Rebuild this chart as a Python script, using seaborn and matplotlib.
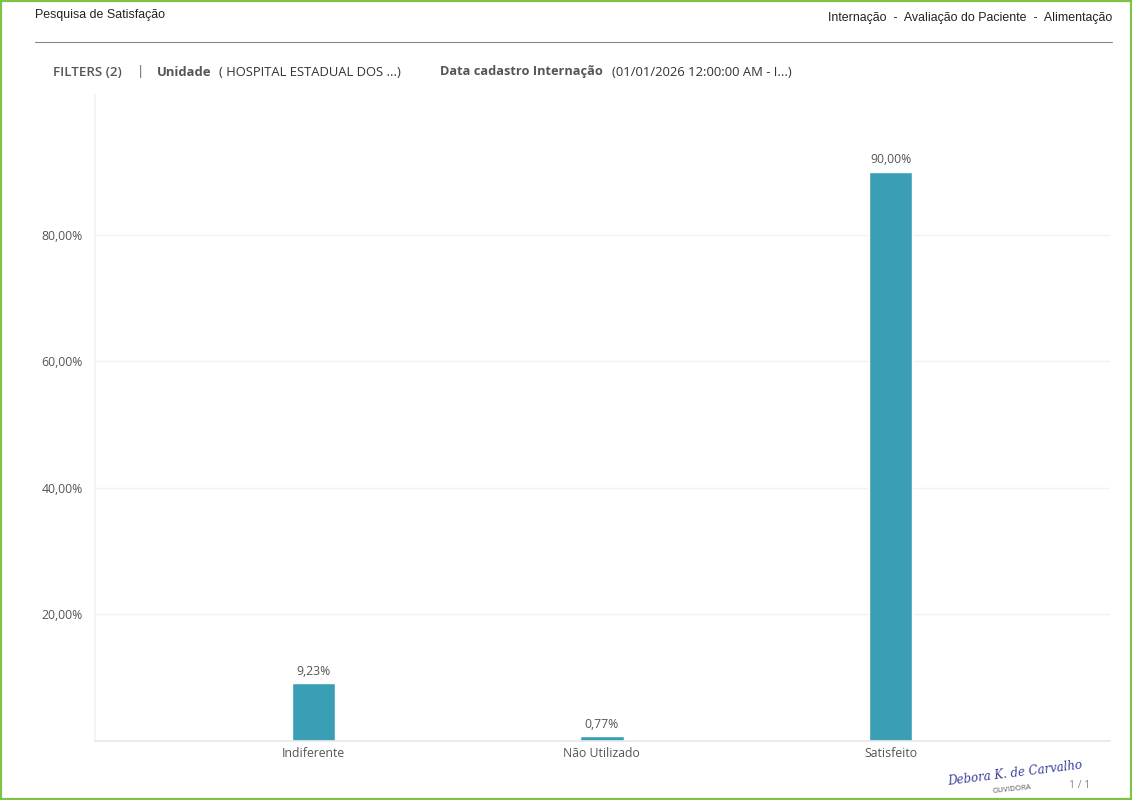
import matplotlib
matplotlib.use('Agg')
import matplotlib.pyplot as plt
import pandas as pd
import seaborn as sns
from matplotlib.patches import Rectangle

categorias = ['Indiferente', 'Não Utilizado', 'Satisfeito']
percentuais = [9.23, 0.77, 90.00]
yticks = [20, 40, 60, 80]

df = pd.DataFrame({'categoria': categorias, 'pct': percentuais})

sns.set_theme(style='white')
plt.rcParams['font.family'] = ['Open Sans', 'DejaVu Sans']

fig = plt.figure(figsize=(11.32, 8), dpi=100)
W, H = 1132, 800
ax = fig.add_axes([95 / W, (800 - 741) / H, 1015 / W, (741 - 95) / H])

sns.barplot(data=df, x='categoria', y='pct', color='#3a9fb4', width=0.15,
            saturation=1, ax=ax)

ax.set_xlim(-0.756, 2.76)
ax.set_ylim(0, 102.1)
ax.set_yticks(yticks)
ax.set_yticklabels([f'{v:.2f}%'.replace('.', ',') for v in yticks])
ax.set_xlabel('')
ax.set_ylabel('')
ax.tick_params(axis='both', length=0, labelsize=8.8, colors='#555555')
ax.tick_params(axis='y', pad=9)
ax.tick_params(axis='x', pad=4)
ax.yaxis.grid(True, color='#f3f3f3', linewidth=1)
ax.set_axisbelow(True)
for s in ['top', 'right']:
    ax.spines[s].set_visible(False)
ax.spines['left'].set_color('#f3f3f3')
ax.spines['bottom'].set_color('#e8e8e8')

for i, v in enumerate(percentuais):
    ax.text(i, v + 0.8, f'{v:.2f}%'.replace('.', ','), ha='center', va='bottom',
            fontsize=8.8, color='#555555')

# cabecalho
fig.text(35 / W, 1 - 15 / H, 'Pesquisa de Satisfação', fontsize=8.9,
         family='Liberation Sans', va='center', color='#222222')
fig.text(1112 / W, 1 - 18 / H, 'Internação  -  Avaliação do Paciente  -  Alimentação',
         fontsize=8.9, family='Liberation Sans', va='center', ha='right', color='#222222')
fig.add_artist(plt.Line2D([35 / W, 1112 / W], [1 - 42 / H, 1 - 42 / H],
                          color='#888888', linewidth=0.8))

# filtros
fy = 1 - 72 / H
fig.text(53 / W, fy, 'FILTERS (2)', fontsize=9.6, weight='semibold', color='#555555', va='center')
fig.text(137 / W, fy, '|', fontsize=9.6, color='#555555', va='center')
fig.text(157 / W, fy, 'Unidade', fontsize=9.4, weight='bold', color='#555555', va='center')
fig.text(219 / W, fy, '( HOSPITAL ESTADUAL DOS ...)', fontsize=9.4, color='#333333', va='center')
fig.text(440 / W, fy, 'Data cadastro Internação', fontsize=9.2, weight='bold', color='#555555', va='center')
fig.text(612 / W, fy, '(01/01/2026 12:00:00 AM - I...)', fontsize=9.4, color='#333333', va='center')

# rodape
fig.text(1015 / W, 1 - 773 / H, 'Debora K. de Carvalho', fontsize=8.5, style='italic',
         family='DejaVu Serif', color='#3b3f9a', ha='center', va='center', rotation=7)
fig.text(1012 / W, 1 - 789 / H, 'OUVIDORA', fontsize=5.5, color='#555555',
         ha='center', va='center', rotation=6)
fig.text(1080 / W, 1 - 786 / H, '1 / 1', fontsize=7.5, color='#888888', ha='center', va='center')

# borda verde
fig.add_artist(Rectangle((0, 0), 1, 1, transform=fig.transFigure, fill=False,
                         edgecolor='#7dc242', linewidth=3))

fig.savefig('out.png', dpi=100)
